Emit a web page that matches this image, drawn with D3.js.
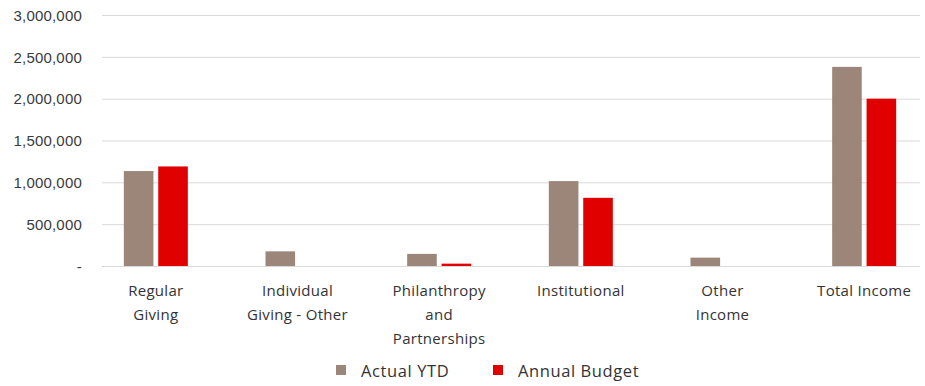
<!DOCTYPE html>
<html>
<head>
<meta charset="utf-8">
<script src="https://cdnjs.cloudflare.com/ajax/libs/d3/7.8.5/d3.min.js"></script>
<style>
  body { margin: 0; background: #fff; }
  .y-axis text { font-family: "Liberation Sans", Arial, sans-serif; font-size: 15px; letter-spacing: 0.2px; fill: #3a3a3a; }
  .cat-label { font-family: "Open Sans", sans-serif; font-size: 15px; letter-spacing: 0.3px; fill: #333; }
  .legend text { font-family: "Open Sans", sans-serif; font-size: 16.5px; letter-spacing: 0.6px; fill: #333; }
</style>
</head>
<body>
<div id="chart"></div>
<script>
// chart data
const categories = [
  'Regular Giving',
  'Individual Giving - Other',
  'Philanthropy and Partnerships',
  'Institutional',
  'Other Income',
  'Total Income'
];
// how each category label wraps under the axis
const categoryLines = [
  ['Regular', 'Giving'],
  ['Individual', 'Giving - Other'],
  ['Philanthropy', 'and', 'Partnerships'],
  ['Institutional'],
  ['Other', 'Income'],
  ['Total Income']
];
const actualYTD = [1135000, 175000, 145000, 1015000, 100000, 2380000];
const annualBudget = [1190000, 0, 28000, 815000, 0, 2000000];
const seriesNames = ['Actual YTD', 'Annual Budget'];
const yTicks = [0, 500000, 1000000, 1500000, 2000000, 2500000, 3000000];

const COLORS = ['#9c8679', '#e00000'];

const width = 925;
const height = 386;

const svg = d3.select('#chart')
  .append('svg')
    .attr('width', width)
    .attr('height', height);

const y = d3.scaleLinear()
  .domain([0, 3000000])
  .range([266, 15]);

// gridlines stop at the plot edges
const gridLeft = 102, gridRight = 920;

const x = d3.scaleBand()
  .domain(categories)
  .range([85, 935]);

const inner = d3.scaleBand()
  .domain(seriesNames)
  .range([0, 64])
  .paddingInner(0.14);

const fmt = d3.format(',');

// y axis with gridlines
const yAxis = svg.append('g')
  .attr('class', 'y-axis')
  .attr('transform', `translate(${gridLeft},0)`)
  .call(
    d3.axisLeft(y)
      .tickValues(yTicks)
      .tickSize(-(gridRight - gridLeft))
      .tickPadding(20)
      .tickFormat(d => d === 0 ? '-' : fmt(d))
  );
yAxis.select('.domain').remove();
yAxis.selectAll('.tick line')
  .attr('stroke', '#d9d9d9')
  .attr('stroke-width', 1);
yAxis.selectAll('.tick text').attr('dy', '0.35em');

// bars
const rows = categories.map((c, i) => ({
  key: c,
  values: [
    { series: seriesNames[0], value: actualYTD[i] },
    { series: seriesNames[1], value: annualBudget[i] }
  ]
}));

const groups = svg.selectAll('.group')
  .data(rows)
  .enter().append('g')
    .attr('class', 'group')
    .attr('transform', d => `translate(${x(d.key) + x.bandwidth() / 2 - 32},0)`);

groups.selectAll('rect')
  .data(d => d.values.filter(v => v.value > 0))
  .enter().append('rect')
    .attr('x', d => inner(d.series))
    .attr('y', d => y(d.value))
    .attr('width', inner.bandwidth())
    .attr('height', d => y(0) - y(d.value))
    .attr('fill', d => COLORS[seriesNames.indexOf(d.series)]);

// category labels
const labels = svg.selectAll('.cat-label')
  .data(categories)
  .enter().append('text')
    .attr('class', 'cat-label')
    .attr('text-anchor', 'middle')
    .attr('x', d => x(d) + x.bandwidth() / 2)
    .attr('y', 296);

labels.selectAll('tspan')
  .data((d, i) => categoryLines[i])
  .enter().append('tspan')
    .attr('x', function () { return d3.select(this.parentNode).attr('x'); })
    .attr('dy', (d, i) => i === 0 ? 0 : 24)
    .text(d => d);

// legend
const legendPos = [336, 493];
const legend = svg.selectAll('.legend')
  .data(seriesNames)
  .enter().append('g')
    .attr('class', 'legend')
    .attr('transform', (d, i) => `translate(${legendPos[i]},365)`);

legend.append('rect')
  .attr('width', 10)
  .attr('height', 10)
  .attr('fill', (d, i) => COLORS[i]);

legend.append('text')
  .attr('x', 25)
  .attr('y', 12)
  .text(d => d);
</script>
</body>
</html>
